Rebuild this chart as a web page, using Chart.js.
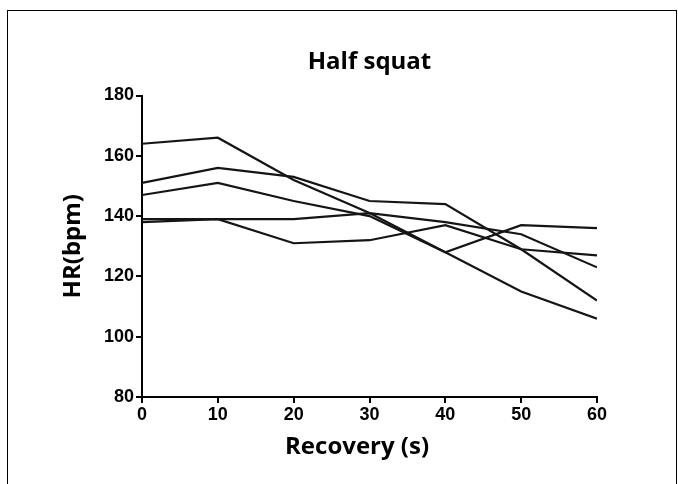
<!DOCTYPE html>
<html>
<head>
<meta charset="utf-8">
<script src="https://cdn.jsdelivr.net/npm/chart.js@4.4.1/dist/chart.umd.min.js"></script>
<style>
  html, body { margin: 0; padding: 0; background: #fff; overflow: hidden; }
  #wrap { position: relative; width: 678px; height: 484px; }
  #frame { position: absolute; left: 7px; top: 10px; width: 668px; height: 520px; border: 1px solid #000; box-sizing: content-box; }
  canvas { position: absolute; left: 0; top: 0; }
</style>
</head>
<body>
<div id="wrap">
  <div id="frame"></div>
  <canvas id="chart_halfSquat" width="678" height="484"></canvas>
</div>
<script>
// recovery time points (s)
var recoveryTimes = [0, 10, 20, 30, 40, 50, 60];

// heart rate per subject (bpm)
var subject1 = [164, 166, 152, 141, 128, 115, 106];
var subject2 = [151, 156, 153, 145, 144, 129, 112];
var subject3 = [147, 151, 145, 140, 128, 137, 136];
var subject4 = [139, 139, 139, 141, 138, 134, 123];
var subject5 = [138, 139, 131, 132, 137, 129, 127];

var yTicks = [80, 100, 120, 140, 160, 180];
var xTicks = [0, 10, 20, 30, 40, 50, 60];

var subjects = [subject1, subject2, subject3, subject4, subject5];

function toPoints(values) {
    return recoveryTimes.map(function (t, i) { return { x: t, y: values[i] }; });
}

var tickFont = { family: "'Liberation Sans', Arial, sans-serif", size: 18, weight: 'bold' };
var titleFont = { family: "'Open Sans', sans-serif", size: 24, weight: 'bold', lineHeight: 1.2 };

var chart_halfSquat = new Chart(document.getElementById('chart_halfSquat'), {
    type: 'line',
    data: {
        datasets: subjects.map(function (s, i) {
            return {
                label: 'Subject ' + (i + 1),
                data: toPoints(s),
                borderColor: '#151515',
                borderWidth: 2.2,
                pointRadius: 0,
                tension: 0,
                fill: false
            };
        })
    },
    options: {
        animation: false,
        responsive: false,
        maintainAspectRatio: false,
        layout: {
            padding: { left: 59, right: 81, top: 0, bottom: 22.6 }
        },
        plugins: {
            legend: { display: false },
            tooltip: { enabled: false },
            title: {
                display: true,
                text: 'Half squat',
                color: '#000',
                fullSize: false,
                font: titleFont,
                padding: { top: 47.6, bottom: 19.1 }
            }
        },
        scales: {
            x: {
                type: 'linear',
                min: 0,
                max: 60,
                afterBuildTicks: function (scale) {
                    scale.ticks = xTicks.map(function (v) { return { value: v }; });
                },
                afterFit: function (scale) { scale.height = 64.4; },
                border: { display: true, color: '#000', width: 2 },
                grid: { drawOnChartArea: false, color: '#000', lineWidth: 2, tickLength: 6 },
                ticks: { color: '#000', font: tickFont, padding: 1, maxRotation: 0 },
                title: {
                    display: true,
                    text: 'Recovery (s)    ',
                    color: '#000',
                    font: titleFont,
                    padding: { top: 0, bottom: 0 }
                }
            },
            y: {
                type: 'linear',
                min: 80,
                max: 180,
                afterBuildTicks: function (scale) {
                    scale.ticks = yTicks.map(function (v) { return { value: v }; });
                },
                afterFit: function (scale) { scale.width = 83; },
                border: { display: true, color: '#000', width: 2 },
                grid: { drawOnChartArea: false, color: '#000', lineWidth: 2, tickLength: 6 },
                ticks: { color: '#000', font: tickFont, padding: 2 },
                title: {
                    display: true,
                    text: 'HR(bpm)',
                    color: '#000',
                    font: titleFont,
                    padding: { top: 0, bottom: 0 }
                }
            }
        }
    }
});
</script>
</body>
</html>
